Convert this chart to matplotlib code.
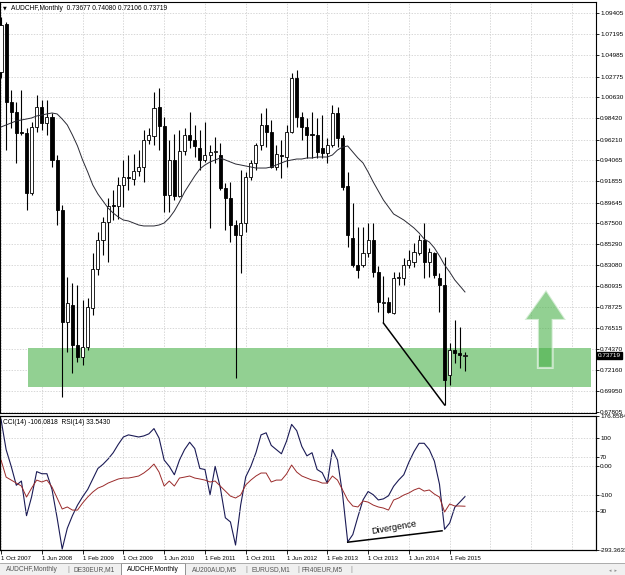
import numpy as np
import matplotlib
matplotlib.use('Agg')
import matplotlib.pyplot as plt
import matplotlib.transforms as mtransforms
from matplotlib.patches import Rectangle, Polygon

plt.rcParams['font.family'] = ['Liberation Sans', 'DejaVu Sans']

# monthly AUDCHF bars, Oct 2007 .. May 2015
opens = [1.0325, 1.0826, 1.0013, 0.9908, 0.9700, 0.9689, 0.9064, 0.9752, 0.9960, 0.9794,
         0.9856, 0.9408, 0.8887, 0.7719, 0.7896, 0.7479, 0.7354, 0.7458, 0.7865, 0.8272,
         0.8574, 0.8761, 0.8939, 0.8928, 0.9147, 0.9231, 0.9210, 0.9293, 0.9335, 0.9616,
         0.9658, 0.9960, 0.9763, 0.9043, 0.9408, 0.9033, 0.9502, 0.9669, 0.9616, 0.9533,
         0.9408, 0.9460, 0.9491, 0.9460, 0.9116, 0.9012, 0.8730, 0.8626, 0.8751, 0.9231,
         0.9377, 0.9564, 0.9773, 0.9700, 0.9335, 0.9460, 0.9439, 0.9700, 1.0263, 0.9856,
         0.9752, 0.9672, 0.9669, 0.9533, 0.9481, 0.9564, 0.9898, 0.9637, 0.9137, 0.8595,
         0.8313, 0.8313, 0.8438, 0.8574, 0.8240, 0.7917, 0.7927, 0.7813, 0.8178, 0.8178,
         0.8313, 0.8344, 0.8438, 0.8574, 0.8344, 0.8438, 0.8178, 0.8105, 0.7166, 0.7427,
         0.7396, 0.73677]
highs = [1.0899, 1.0847, 1.0138, 1.0013, 1.0138, 0.9742, 0.9804, 1.0086, 1.0033, 1.0033,
         0.9898, 0.9460, 0.8939, 0.8188, 0.8125, 0.8105, 0.7948, 0.7969, 0.8438, 0.8657,
         0.8814, 0.9012, 0.9095, 0.9231, 0.9408, 0.9460, 0.9470, 0.9512, 0.9721, 0.9742,
         1.0117, 1.0159, 0.9856, 0.9616, 0.9679, 0.9721, 0.9742, 0.9908, 0.9773, 0.9721,
         0.9804, 0.9564, 0.9648, 0.9585, 0.9168, 0.9179, 0.8782, 0.9304, 0.9283, 0.9408,
         0.9585, 0.9898, 0.9950, 0.9825, 0.9564, 0.9616, 0.9773, 1.0315, 1.0346, 0.9908,
         0.9846, 0.9908, 0.9846, 0.9877, 0.9637, 0.9981, 0.9960, 0.9669, 0.9283, 0.8960,
         0.8709, 0.8709, 0.8751, 0.8751, 0.8303, 0.8199, 0.7979, 0.8240, 0.8240, 0.8386,
         0.8470, 0.8542, 0.8626, 0.8751, 0.8490, 0.8449, 0.8230, 0.8397, 0.7500, 0.7740,
         0.7667, 0.74080]
lows = [1.0263, 0.9512, 0.9742, 0.9377, 0.9669, 0.8887, 0.9043, 0.9700, 0.9721, 0.9669,
        0.9335, 0.8730, 0.6937, 0.7406, 0.7187, 0.7302, 0.7271, 0.7427, 0.7792, 0.8209,
        0.8418, 0.8344, 0.8782, 0.8793, 0.8918, 0.9095, 0.9147, 0.9241, 0.9179, 0.9575,
        0.9564, 0.9512, 0.8866, 0.8866, 0.8991, 0.9022, 0.9460, 0.9533, 0.9439, 0.9304,
        0.9387, 0.8699, 0.9377, 0.9095, 0.8678, 0.8553, 0.7135, 0.8230, 0.8657, 0.9199,
        0.9304, 0.9512, 0.9543, 0.9324, 0.9304, 0.9220, 0.9335, 0.9689, 0.9752, 0.9616,
        0.9429, 0.9429, 0.9429, 0.9429, 0.9377, 0.9543, 0.9543, 0.9095, 0.8501, 0.8292,
        0.8178, 0.8292, 0.8397, 0.8188, 0.7823, 0.7708, 0.7813, 0.7802, 0.8105, 0.8105,
        0.8282, 0.8292, 0.8418, 0.8178, 0.8188, 0.8178, 0.7823, 0.6854, 0.7062, 0.7291,
        0.7239, 0.72106]
closes = [1.0816, 1.0013, 0.9908, 0.9689, 0.9689, 0.9064, 0.9752, 0.9960, 0.9794, 0.9856,
          0.9408, 0.8887, 0.7719, 0.7917, 0.7479, 0.7354, 0.7458, 0.7875, 0.8272, 0.8574,
          0.8761, 0.8928, 0.8928, 0.9147, 0.9231, 0.9220, 0.9293, 0.9335, 0.9616, 0.9669,
          0.9950, 0.9763, 0.9043, 0.9408, 0.9033, 0.9502, 0.9669, 0.9616, 0.9554, 0.9408,
          0.9460, 0.9491, 0.9502, 0.9116, 0.9012, 0.8730, 0.8626, 0.8751, 0.9231, 0.9377,
          0.9564, 0.9773, 0.9700, 0.9335, 0.9470, 0.9450, 0.9700, 1.0263, 0.9856, 0.9752,
          0.9669, 0.9669, 0.9491, 0.9481, 0.9564, 0.9898, 0.9637, 0.9126, 0.8626, 0.8313,
          0.8261, 0.8438, 0.8574, 0.8240, 0.7927, 0.7927, 0.7823, 0.8178, 0.8182, 0.8313,
          0.8365, 0.8449, 0.8574, 0.8344, 0.8449, 0.8209, 0.8105, 0.7114, 0.7427, 0.7396,
          0.7375, 0.73719]
ma_values = [0.9752, 0.9773, 0.9794, 0.9815, 0.9825, 0.9835, 0.9846, 0.9867, 0.9877, 0.9888,
             0.9898, 0.9888, 0.9835, 0.9773, 0.9669, 0.9554, 0.9408, 0.9283, 0.9147, 0.9053,
             0.8980, 0.8907, 0.8855, 0.8814, 0.8782, 0.8772, 0.8751, 0.8730, 0.8720, 0.8720,
             0.8720, 0.8730, 0.8751, 0.8803, 0.8876, 0.8970, 0.9074, 0.9158, 0.9241, 0.9314,
             0.9356, 0.9387, 0.9408, 0.9429, 0.9408, 0.9387, 0.9366, 0.9356, 0.9345, 0.9335,
             0.9324, 0.9324, 0.9324, 0.9335, 0.9356, 0.9377, 0.9398, 0.9408, 0.9418, 0.9418,
             0.9429, 0.9429, 0.9439, 0.9439, 0.9439, 0.9460, 0.9512, 0.9543, 0.9554, 0.9491,
             0.9429, 0.9377, 0.9283, 0.9179, 0.9085, 0.8991, 0.8918, 0.8845, 0.8814, 0.8782,
             0.8741, 0.8699, 0.8647, 0.8584, 0.8553, 0.8491, 0.8407, 0.8313, 0.8240, 0.8157,
             0.8095, 0.8032]
cci_values = [165.0, 59.0, 0.1, -66.2, -51.4, -173.0, -106.7, -18.3, -25.7, -25.7,
              -80.9, -180.3, -290.0, -217.1, -173.0, -136.1, -106.7, -80.9, -44.1, -7.3,
              7.5, 25.9, 48.0, 77.4, 103.2, 110.6, 106.9, 103.2, 106.9, 114.3,
              132.7, 99.5, 22.2, 0.1, -29.3, 22.2, 59.0, 84.8, 62.7, -7.3,
              -10.9, -99.3, 0.1, -73.5, -180.3, -195.0, -276.0, -136.1, -36.7, 0.1,
              48.0, 110.6, 117.9, 73.8, 59.0, 44.3, 88.5, 147.4, 125.3, 70.1,
              37.0, 48.0, -10.9, -22.0, -58.8, 59.0, 22.2, -99.3, -265.0, -239.2,
              -176.6, -117.7, -88.2, -99.3, -117.7, -114.0, -103.0, -69.8, -47.8, -29.3,
              14.8, 51.7, 81.1, 81.1, 59.0, 18.5, -62.5, -220.8, -198.7, -143.5,
              -125.1, -106.0818]
rsi_values = [67.6, 55.0, 52.8, 50.6, 48.4, 40.3, 46.9, 52.8, 51.4, 52.8,
              47.7, 39.6, 31.5, 33.0, 30.7, 30.7, 35.9, 40.3, 44.0, 46.9,
              48.4, 50.6, 52.1, 53.6, 54.3, 54.3, 55.0, 55.8, 58.0, 60.9,
              64.6, 58.7, 48.4, 52.1, 48.4, 54.3, 55.0, 55.8, 54.3, 53.6,
              52.8, 51.4, 52.1, 48.4, 44.7, 41.0, 39.6, 41.8, 49.2, 52.8,
              55.8, 58.0, 58.0, 51.4, 52.8, 52.8, 57.3, 63.9, 58.7, 55.8,
              54.3, 52.8, 52.1, 50.6, 50.6, 55.8, 52.8, 45.5, 38.1, 33.7,
              33.0, 37.4, 36.6, 34.4, 33.0, 32.2, 30.7, 38.1, 39.6, 41.8,
              43.3, 45.5, 46.9, 44.7, 45.5, 42.5, 40.3, 29.3, 35.2, 33.7,
              33.7, 33.543]

date_labels = ['1 Oct 2007', '1 Jun 2008', '1 Feb 2009', '1 Oct 2009', '1 Jun 2010',
               '1 Feb 2011', '1 Oct 2011', '1 Jun 2012', '1 Feb 2013', '1 Oct 2013',
               '1 Jun 2014', '1 Feb 2015']
price_ticks = ['1.09405', '1.07195', '1.04985', '1.02775', '1.00630', '0.98420', '0.96210',
               '0.94065', '0.91855', '0.89645', '0.87500', '0.85290', '0.83080', '0.80935',
               '0.78725', '0.76515', '0.74370', '0.72160', '0.69950', '0.67805']
cci_ticks = ['176.8584', '100', '0.00', '-100', '-293.3633']
rsi_ticks = ['70', '30']
tabs = ['AUDCHF,Monthly', 'DE30EUR,M1', 'AUDCHF,Monthly', 'AU200AUD,M5', 'EURUSD,M1', 'FR40EUR,M5']

zone_low, zone_high = 0.7041, 0.7448
last_price = 0.73719

W, H = 625, 575
fig = plt.figure(figsize=(W / 100, H / 100), dpi=100)
fig.patch.set_facecolor('white')
ax = fig.add_axes([0, 162 / H, 596 / W, 411 / H])
ax2 = fig.add_axes([0, 25 / H, 596 / W, 134 / H])
ax3 = ax2.twinx()

x = np.arange(len(opens))
o = np.array(opens)
c = np.array(closes)
grid_kw = dict(color='#c8c8c8', lw=0.5, ls=(0, (2, 2)), zorder=0)

# ---- price pane ----
ax.set_xlim(-0.2, 116.7)
ax.set_ylim(0.6770, 1.1055)
tick_vals = [float(t) for t in price_ticks]
for v in tick_vals:
    ax.axhline(v, **grid_kw)
for k in range(0, 117, 8):
    ax.axvline(k, **grid_kw)

ax.add_patch(Rectangle((5.3, zone_low), 110.5, zone_high - zone_low,
                       facecolor='#92d092', edgecolor='none', zorder=1))

ax.vlines(x, lows, highs, color='black', lw=0.8, zorder=2)
body_lo = np.minimum(o, c)
body_h = np.maximum(np.abs(c - o), 0.0005)
ax.bar(x, body_h, bottom=body_lo, width=0.6,
       color=np.where(c >= o, 'white', 'black'), edgecolor='black', lw=0.6, zorder=3)
ax.plot(x, ma_values, color='#2a2a34', lw=0.7, zorder=4)

# divergence on price
ax.plot([75, 87], [lows[75], lows[87]], color='black', lw=1.1, zorder=5)

# up arrow
arrow = Polygon([(105.3, 0.7240), (108.2, 0.7240), (108.2, 0.7740), (110.8, 0.7740),
                 (106.9, 0.8053), (102.7, 0.7740), (105.3, 0.7740)], closed=True,
                facecolor=(73 / 255, 177 / 255, 73 / 255, 0.6),
                edgecolor=(1, 1, 1, 0.6), lw=1.5, zorder=6)
ax.add_patch(arrow)

ax.yaxis.tick_right()
ax.set_yticks(tick_vals)
ax.set_yticklabels(price_ticks)
ax.set_xticks([])
ax.tick_params(axis='y', direction='out', length=2, width=0.6, pad=1, labelsize=4.6)
for s in ax.spines.values():
    s.set_color('black')
    s.set_linewidth(0.8)

trans = mtransforms.blended_transform_factory(ax.transAxes, ax.transData)
ax.text(1.003, last_price, f'{last_price:.5f}', transform=trans, color='white', fontsize=4.6,
        va='center', ha='left',
        bbox=dict(facecolor='black', edgecolor='black', boxstyle='square,pad=0.15'))

fig.text(3 / W, 1 - 8 / H, '\u25bc', fontsize=3.5, va='center', family=['DejaVu Sans'])
fig.text(11 / W, 1 - 8 / H, 'AUDCHF,Monthly  0.73677 0.74080 0.72106 0.73719',
         fontsize=4.8, va='center')

# ---- indicator pane ----
ax2.set_xlim(-0.2, 116.7)
ax2.set_ylim(-293.3633, 176.8584)
ax3.set_ylim(1.3, 100)
for v in [100, 0, -100]:
    ax2.axhline(v, **grid_kw)
for v in [70, 30]:
    ax3.axhline(v, **grid_kw)
for k in range(0, 117, 8):
    ax2.axvline(k, **grid_kw)

ax3.plot(x, rsi_values, color='#9a2a2a', lw=0.7)
ax2.plot(x, cci_values, color='#1a1a55', lw=0.8)
ax2.plot([68, 86.5], [-266, -226], color='black', lw=1.1)
ax2.text(77, -213, 'Divergence', fontsize=6.5, rotation=10, ha='center', va='center')

ax2.set_yticks([float(t) for t in cci_ticks])
ax2.set_yticklabels(cci_ticks)
ax2.yaxis.tick_right()
ax3.set_yticks([float(t) for t in rsi_ticks])
ax3.set_yticklabels(rsi_ticks)
for a in (ax2, ax3):
    a.tick_params(axis='y', direction='out', length=2, width=0.6, pad=1, labelsize=4.6)
ax2.set_xticks(np.arange(len(date_labels)) * 8)
ax2.set_xticklabels(date_labels)
ax2.tick_params(axis='x', direction='out', length=3, width=0.6, pad=1.5, labelsize=4.4)
for lbl in ax2.get_xticklabels():
    lbl.set_ha('left')
for a in (ax2, ax3):
    for s in a.spines.values():
        s.set_color('black')
        s.set_linewidth(0.8)
fig.text(3 / W, 1 - 422 / H, 'CCI(14) -106.0818  RSI(14) 33.5430', fontsize=4.8, va='center')

# ---- tab bar ----
fig.patches.append(Rectangle((0, 0), 1, 12 / H, transform=fig.transFigure,
                             facecolor='#f0f0f0', edgecolor='none', zorder=0))
fig.lines.append(plt.Line2D([0, 1], [12 / H, 12 / H], transform=fig.transFigure,
                            color='#a0a0a0', lw=0.6))
fig.patches.append(Rectangle((121 / W, 0), 64 / W, 12.5 / H, transform=fig.transFigure,
                             facecolor='white', edgecolor='#808080', lw=0.6, zorder=1))
tab_x = [6, 73, 127, 192, 252, 302]
for i, (tx, name) in enumerate(zip(tab_x, tabs)):
    fig.text(tx / W, 5.5 / H, name, fontsize=4.8, va='center',
             color='black' if i == 2 else '#555555', zorder=2)
for sx in [67, 245, 297, 350]:
    fig.text(sx / W, 5.5 / H, '|', fontsize=5, va='center', color='#909090')
fig.text(609 / W, 5 / H, '\u25c2  \u25b8', fontsize=3.5, va='center', color='#909090',
         family=['DejaVu Sans'])

fig.savefig('out.png', dpi=100)
